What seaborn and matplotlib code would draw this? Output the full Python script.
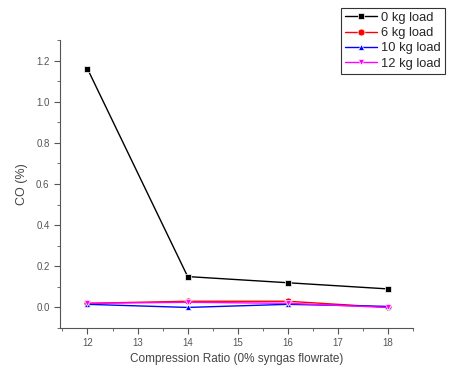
import matplotlib
matplotlib.use("Agg")
import matplotlib.pyplot as plt
import seaborn as sns
import pandas as pd
from matplotlib.ticker import MultipleLocator

sns.set_style("ticks")
plt.rcParams['font.family'] = ['Liberation Sans', 'DejaVu Sans']

compression_ratio = [12, 14, 16, 18]
co_0kg = [1.16, 0.15, 0.12, 0.09]
co_6kg = [0.02, 0.03, 0.03, 0.0]
co_10kg = [0.015, 0.0, 0.015, 0.005]
co_12kg = [0.02, 0.025, 0.02, 0.0]
series_names = ["0 kg load", "6 kg load", "10 kg load", "12 kg load"]

rows = []
for name, vals in zip(series_names, [co_0kg, co_6kg, co_10kg, co_12kg]):
    for x, y in zip(compression_ratio, vals):
        rows.append({"CR": x, "CO": y, "Load": name})
df = pd.DataFrame(rows)

colors = ["black", "red", "blue", "magenta"]
markers = ["s", "o", "^", "v"]

fig = plt.figure(figsize=(4.61, 3.74), dpi=100)
ax = fig.add_axes([0.130, 0.123, 0.766, 0.770])
sns.lineplot(data=df, x="CR", y="CO", hue="Load", style="Load",
             palette=colors, markers=markers, dashes=False,
             markersize=5, linewidth=1, markeredgewidth=0.5, ax=ax)

ax.set_xlim(11.45, 18.5)
ax.set_ylim(-0.1, 1.3)
ax.xaxis.set_major_locator(MultipleLocator(1))
ax.xaxis.set_minor_locator(MultipleLocator(0.5))
ax.yaxis.set_major_locator(MultipleLocator(0.2))
ax.yaxis.set_minor_locator(MultipleLocator(0.1))
ax.tick_params(axis='both', which='major', length=4, labelsize=7, colors='#555555', labelcolor='#555555')
ax.tick_params(axis='both', which='minor', length=2, colors='#555555')
ax.yaxis.set_major_formatter(matplotlib.ticker.FormatStrFormatter('%.1f'))
for s in ['top', 'right']:
    ax.spines[s].set_visible(False)
for s in ['left', 'bottom']:
    ax.spines[s].set_color('#555555')
    ax.spines[s].set_linewidth(0.8)
ax.set_xlabel("Compression Ratio (0% syngas flowrate)", fontsize=8.5, color='#444444', labelpad=3)
ax.set_ylabel("CO (%)", fontsize=9, color='#444444', labelpad=6)

leg = ax.legend(title=None, loc='upper left', bbox_to_anchor=(341 / 461, 1 - 8 / 374),
                bbox_transform=fig.transFigure,
                fontsize=9.3, frameon=True, fancybox=False, edgecolor='black',
                borderpad=0.3, labelspacing=0.25, handlelength=2.5, handletextpad=0.3,
                borderaxespad=0)
leg.get_frame().set_linewidth(0.8)
fig.savefig("out.png", dpi=100, facecolor="white")
